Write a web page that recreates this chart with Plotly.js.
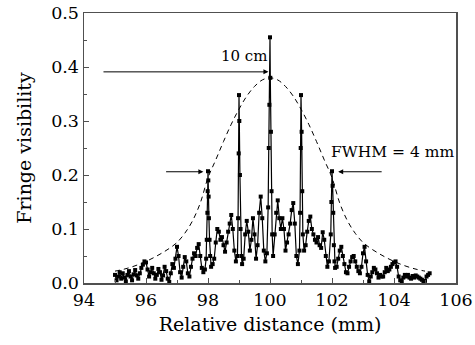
<!DOCTYPE html>
<html><head><meta charset="utf-8">
<script src="https://cdn.plot.ly/plotly-3.0.1.min.js"></script>
<style>html,body{margin:0;padding:0;background:#fff}#c{width:475px;height:345px}</style>
</head><body><div id="c"></div>
<script>
var xData = [95.00,95.05,95.10,95.15,95.20,95.25,95.30,95.35,95.40,95.45,95.50,95.55,95.60,95.65,95.70,95.75,95.80,95.85,95.90,95.95,
96.00,96.05,96.10,96.15,96.20,96.25,96.30,96.35,96.40,96.45,96.50,96.55,96.60,96.65,96.70,96.75,96.80,96.85,96.90,96.95,
97.00,97.05,97.10,97.15,97.20,97.25,97.30,97.35,97.40,97.45,97.50,97.55,97.60,97.65,97.70,97.75,97.80,97.85,97.90,97.94,
97.96,97.98,97.99,98.00,98.01,98.02,98.03,98.05,98.07,98.10,98.15,98.20,98.25,98.30,98.35,98.40,98.45,98.50,98.55,98.60,
98.65,98.70,98.75,98.80,98.85,98.90,98.95,98.97,98.99,99.00,99.01,99.03,99.05,99.08,99.10,99.15,99.20,99.25,99.30,99.35,
99.40,99.45,99.50,99.55,99.60,99.65,99.70,99.75,99.80,99.85,99.90,99.94,99.96,99.98,100.00,100.01,100.03,100.05,100.07,100.10,
100.15,100.20,100.25,100.30,100.35,100.40,100.45,100.50,100.55,100.60,100.65,100.70,100.75,100.80,100.85,100.90,100.95,100.97,100.99,101.00,
101.02,101.04,101.06,101.10,101.15,101.20,101.25,101.30,101.35,101.40,101.45,101.50,101.55,101.60,101.65,101.70,101.75,101.80,101.85,101.90,
101.96,101.98,102.00,102.02,102.04,102.06,102.08,102.10,102.15,102.20,102.25,102.30,102.35,102.40,102.45,102.50,102.55,102.60,102.65,102.70,
102.75,102.80,102.85,102.90,102.95,103.00,103.05,103.10,103.15,103.20,103.25,103.30,103.35,103.40,103.45,103.50,103.55,103.60,103.65,103.70,
103.75,103.80,103.85,103.90,103.95,104.00,104.05,104.10,104.15,104.20,104.25,104.30,104.35,104.40,104.45,104.50,104.55,104.60,104.65,104.70,
104.75,104.80,104.85,104.90,104.95,105.00,105.05,105.10,105.15];
var yData = [0.015,0.005,0.012,0.020,0.008,0.018,0.010,0.003,0.015,0.022,0.012,0.005,0.016,0.024,0.014,0.008,0.018,0.028,0.034,0.040,
0.038,0.025,0.012,0.020,0.028,0.018,0.008,0.015,0.026,0.020,0.006,0.014,0.030,0.022,0.008,0.002,0.018,0.035,0.028,0.045,
0.067,0.050,0.020,0.010,0.030,0.048,0.040,0.018,0.012,0.030,0.045,0.055,0.050,0.065,0.072,0.050,0.028,0.020,0.025,0.045,
0.080,0.130,0.170,0.207,0.190,0.160,0.120,0.080,0.050,0.030,0.035,0.045,0.075,0.100,0.095,0.080,0.085,0.070,0.058,0.075,
0.095,0.110,0.126,0.100,0.060,0.040,0.050,0.120,0.240,0.348,0.300,0.200,0.100,0.050,0.035,0.045,0.090,0.115,0.095,0.060,
0.080,0.120,0.090,0.045,0.070,0.130,0.160,0.120,0.060,0.040,0.055,0.140,0.250,0.330,0.455,0.380,0.280,0.170,0.090,0.050,
0.090,0.130,0.153,0.120,0.100,0.120,0.100,0.060,0.075,0.090,0.110,0.135,0.148,0.110,0.050,0.035,0.060,0.130,0.250,0.348,
0.280,0.170,0.090,0.060,0.070,0.095,0.115,0.123,0.100,0.090,0.080,0.075,0.085,0.070,0.065,0.094,0.080,0.050,0.030,0.040,
0.090,0.150,0.207,0.180,0.130,0.070,0.040,0.028,0.030,0.045,0.060,0.067,0.050,0.035,0.020,0.018,0.030,0.040,0.048,0.050,
0.040,0.030,0.022,0.018,0.030,0.055,0.067,0.040,0.015,0.003,0.012,0.020,0.028,0.025,0.018,0.010,0.015,0.012,0.012,0.020,
0.028,0.022,0.025,0.030,0.035,0.038,0.040,0.030,0.012,0.005,0.003,0.010,0.015,0.012,0.015,0.010,0.008,0.013,0.010,0.014,
0.012,0.010,0.008,0.006,0.002,0.004,0.012,0.015,0.018];

var envX = [95.0,95.25,95.5,95.75,96.0,96.25,96.5,96.75,97.0,97.25,97.5,97.75,98.0,98.25,98.5,98.75,99.0,99.25,99.5,99.75,
100.0,100.25,100.5,100.75,101.0,101.25,101.5,101.75,102.0,102.25,102.5,102.75,103.0,103.25,103.5,103.75,104.0,104.25,104.5,104.75,105.0];
var envY = [0.022,0.025,0.029,0.034,0.040,0.047,0.055,0.064,0.075,0.092,0.115,0.148,0.195,0.228,0.262,0.294,0.322,0.346,0.364,0.376,
0.380,0.376,0.364,0.346,0.322,0.294,0.262,0.228,0.195,0.148,0.115,0.092,0.075,0.064,0.055,0.047,0.040,0.034,0.029,0.025,0.022];

var FONT = "'DejaVu Serif', 'Liberation Serif', serif";
var traces = [
  {x: envX, y: envY, mode: 'lines', line: {color: '#000', width: 1, dash: '5px,4px', shape: 'spline'}, hoverinfo: 'skip'},
  {x: xData, y: yData, mode: 'lines+markers', line: {color: '#000', width: 1.2}, marker: {symbol: 'square', size: 4, color: '#000'}}
];
var axBase = {showgrid: false, zeroline: false, showline: true, mirror: true, linecolor: '#505050', linewidth: 1.5,
  ticks: 'inside', ticklen: 5, tickcolor: '#505050', tickfont: {family: FONT, size: 17.5, color: '#000'}};
var layout = {
  width: 475, height: 345, showlegend: false, paper_bgcolor: '#fff', plot_bgcolor: '#fff',
  margin: {l: 84, r: 19, t: 13, b: 62},
  font: {family: FONT, color: '#000'},
  xaxis: Object.assign({}, axBase, {range: [94, 106], dtick: 2, tick0: 94,
    minor: {dtick: 1, ticks: 'inside', ticklen: 3, tickcolor: '#505050'},
    title: {text: 'Relative distance (mm)', font: {family: FONT, size: 19}, standoff: 9}}),
  yaxis: Object.assign({}, axBase, {range: [0, 0.5], dtick: 0.1, tickformat: '.1f',
    minor: {dtick: 0.05, ticks: 'inside', ticklen: 3, tickcolor: '#505050'},
    title: {text: 'Fringe visibility', font: {family: FONT, size: 19}, standoff: 14}}),
  annotations: [
    {x: 99.95, y: 0.391, ax: 94.58, ay: 0.391, xref: 'x', yref: 'y', axref: 'x', ayref: 'y', showarrow: true,
     arrowhead: 2, arrowsize: 1, arrowwidth: 1, arrowcolor: '#000', text: ''},
    {x: 99.15, y: 0.42, xref: 'x', yref: 'y', text: '10 cm', showarrow: false, font: {family: FONT, size: 15}},
    {x: 97.85, y: 0.206, ax: 96.6, ay: 0.206, xref: 'x', yref: 'y', axref: 'x', ayref: 'y', showarrow: true,
     arrowhead: 2, arrowsize: 1, arrowwidth: 1, arrowcolor: '#000', text: ''},
    {x: 102.2, y: 0.206, ax: 103.65, ay: 0.206, xref: 'x', yref: 'y', axref: 'x', ayref: 'y', showarrow: true,
     arrowhead: 2, arrowsize: 1, arrowwidth: 1, arrowcolor: '#000', text: ''},
    {x: 103.95, y: 0.243, xref: 'x', yref: 'y', text: 'FWHM = 4 mm', showarrow: false, font: {family: FONT, size: 15.5}}
  ]
};
Plotly.newPlot('c', traces, layout, {displayModeBar: false, staticPlot: true});
</script></body></html>
